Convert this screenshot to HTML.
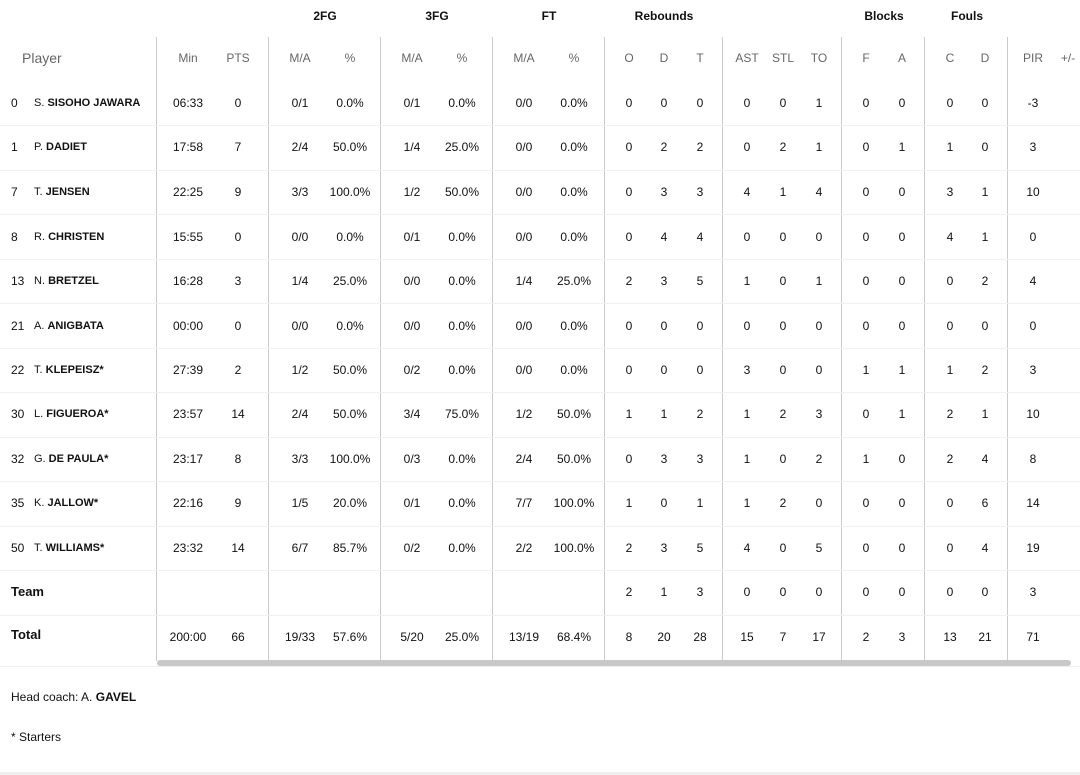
<!DOCTYPE html>
<html><head><meta charset="utf-8"><style>
body{margin:0;width:1080px;height:775px;background:#fff;font-family:"Liberation Sans",sans-serif;color:#111;position:relative;overflow:hidden}
.r{position:absolute;left:0;width:1080px;height:20px;font-size:12px}
.r span{position:absolute;width:60px;text-align:center;top:0;line-height:20px}
.n{position:absolute;left:11px;line-height:20px;font-size:12px}
.n b{font-size:11px;letter-spacing:.5px}
.nm{position:absolute;left:34px;line-height:20px;font-size:11px}
.vl{position:absolute;top:37px;height:624px;width:1px;background:#ccc}
.hl{position:absolute;left:0;width:1080px;height:1px;background:#f0f0f0}
.g{position:absolute;top:9px;font-size:12px;font-weight:bold;width:100px;text-align:center}
.h span{color:#666}
.c1{left:158px}.c2{left:208px}.c3{left:270px}.c4{left:320px}.c5{left:382px}.c6{left:432px}.c7{left:494px}.c8{left:544px}.c9{left:599px}.c10{left:634px}.c11{left:670px}.c12{left:717px}.c13{left:753px}.c14{left:789px}.c15{left:836px}.c16{left:872px}.c17{left:920px}.c18{left:955px}.c19{left:1003px}.c20{left:1038px}
</style></head><body>
<div class="g" style="left:275px">2FG</div><div class="g" style="left:387px">3FG</div><div class="g" style="left:499px">FT</div><div class="g" style="left:614px">Rebounds</div><div class="g" style="left:834px">Blocks</div><div class="g" style="left:917px">Fouls</div>
<div class="vl" style="left:156px"></div><div class="vl" style="left:268px"></div><div class="vl" style="left:380px"></div><div class="vl" style="left:492px"></div><div class="vl" style="left:604px"></div><div class="vl" style="left:722px"></div><div class="vl" style="left:841px"></div><div class="vl" style="left:924px"></div><div class="vl" style="left:1007px"></div>
<div class="hl" style="top:125px"></div><div class="hl" style="top:170px"></div><div class="hl" style="top:214px"></div><div class="hl" style="top:259px"></div><div class="hl" style="top:303px"></div><div class="hl" style="top:348px"></div><div class="hl" style="top:392px"></div><div class="hl" style="top:437px"></div><div class="hl" style="top:481px"></div><div class="hl" style="top:526px"></div><div class="hl" style="top:570px"></div><div class="hl" style="top:615px"></div><div class="hl" style="top:666px"></div>
<div style="position:absolute;left:157px;top:660px;width:914px;height:6px;border-radius:3px;background:#c8c8c8"></div>
<div class="r h" style="top:48px"><div class="n" style="left:22px;color:#666;font-size:14px">Player</div><span class="c1">Min</span><span class="c2">PTS</span><span class="c3">M/A</span><span class="c4">%</span><span class="c5">M/A</span><span class="c6">%</span><span class="c7">M/A</span><span class="c8">%</span><span class="c9">O</span><span class="c10">D</span><span class="c11">T</span><span class="c12">AST</span><span class="c13">STL</span><span class="c14">TO</span><span class="c15">F</span><span class="c16">A</span><span class="c17">C</span><span class="c18">D</span><span class="c19">PIR</span><span class="c20">+/-</span></div>

<div class="r" style="top:93px"><div class="n">0</div><div class="nm">S. <b>SISOHO JAWARA</b></div><span class="c1">06:33</span><span class="c2">0</span><span class="c3">0/1</span><span class="c4">0.0%</span><span class="c5">0/1</span><span class="c6">0.0%</span><span class="c7">0/0</span><span class="c8">0.0%</span><span class="c9">0</span><span class="c10">0</span><span class="c11">0</span><span class="c12">0</span><span class="c13">0</span><span class="c14">1</span><span class="c15">0</span><span class="c16">0</span><span class="c17">0</span><span class="c18">0</span><span class="c19">-3</span></div>
<div class="r" style="top:137px"><div class="n">1</div><div class="nm">P. <b>DADIET</b></div><span class="c1">17:58</span><span class="c2">7</span><span class="c3">2/4</span><span class="c4">50.0%</span><span class="c5">1/4</span><span class="c6">25.0%</span><span class="c7">0/0</span><span class="c8">0.0%</span><span class="c9">0</span><span class="c10">2</span><span class="c11">2</span><span class="c12">0</span><span class="c13">2</span><span class="c14">1</span><span class="c15">0</span><span class="c16">1</span><span class="c17">1</span><span class="c18">0</span><span class="c19">3</span></div>
<div class="r" style="top:182px"><div class="n">7</div><div class="nm">T. <b>JENSEN</b></div><span class="c1">22:25</span><span class="c2">9</span><span class="c3">3/3</span><span class="c4">100.0%</span><span class="c5">1/2</span><span class="c6">50.0%</span><span class="c7">0/0</span><span class="c8">0.0%</span><span class="c9">0</span><span class="c10">3</span><span class="c11">3</span><span class="c12">4</span><span class="c13">1</span><span class="c14">4</span><span class="c15">0</span><span class="c16">0</span><span class="c17">3</span><span class="c18">1</span><span class="c19">10</span></div>
<div class="r" style="top:227px"><div class="n">8</div><div class="nm">R. <b>CHRISTEN</b></div><span class="c1">15:55</span><span class="c2">0</span><span class="c3">0/0</span><span class="c4">0.0%</span><span class="c5">0/1</span><span class="c6">0.0%</span><span class="c7">0/0</span><span class="c8">0.0%</span><span class="c9">0</span><span class="c10">4</span><span class="c11">4</span><span class="c12">0</span><span class="c13">0</span><span class="c14">0</span><span class="c15">0</span><span class="c16">0</span><span class="c17">4</span><span class="c18">1</span><span class="c19">0</span></div>
<div class="r" style="top:271px"><div class="n">13</div><div class="nm">N. <b>BRETZEL</b></div><span class="c1">16:28</span><span class="c2">3</span><span class="c3">1/4</span><span class="c4">25.0%</span><span class="c5">0/0</span><span class="c6">0.0%</span><span class="c7">1/4</span><span class="c8">25.0%</span><span class="c9">2</span><span class="c10">3</span><span class="c11">5</span><span class="c12">1</span><span class="c13">0</span><span class="c14">1</span><span class="c15">0</span><span class="c16">0</span><span class="c17">0</span><span class="c18">2</span><span class="c19">4</span></div>
<div class="r" style="top:316px"><div class="n">21</div><div class="nm">A. <b>ANIGBATA</b></div><span class="c1">00:00</span><span class="c2">0</span><span class="c3">0/0</span><span class="c4">0.0%</span><span class="c5">0/0</span><span class="c6">0.0%</span><span class="c7">0/0</span><span class="c8">0.0%</span><span class="c9">0</span><span class="c10">0</span><span class="c11">0</span><span class="c12">0</span><span class="c13">0</span><span class="c14">0</span><span class="c15">0</span><span class="c16">0</span><span class="c17">0</span><span class="c18">0</span><span class="c19">0</span></div>
<div class="r" style="top:360px"><div class="n">22</div><div class="nm">T. <b>KLEPEISZ*</b></div><span class="c1">27:39</span><span class="c2">2</span><span class="c3">1/2</span><span class="c4">50.0%</span><span class="c5">0/2</span><span class="c6">0.0%</span><span class="c7">0/0</span><span class="c8">0.0%</span><span class="c9">0</span><span class="c10">0</span><span class="c11">0</span><span class="c12">3</span><span class="c13">0</span><span class="c14">0</span><span class="c15">1</span><span class="c16">1</span><span class="c17">1</span><span class="c18">2</span><span class="c19">3</span></div>
<div class="r" style="top:404px"><div class="n">30</div><div class="nm">L. <b>FIGUEROA*</b></div><span class="c1">23:57</span><span class="c2">14</span><span class="c3">2/4</span><span class="c4">50.0%</span><span class="c5">3/4</span><span class="c6">75.0%</span><span class="c7">1/2</span><span class="c8">50.0%</span><span class="c9">1</span><span class="c10">1</span><span class="c11">2</span><span class="c12">1</span><span class="c13">2</span><span class="c14">3</span><span class="c15">0</span><span class="c16">1</span><span class="c17">2</span><span class="c18">1</span><span class="c19">10</span></div>
<div class="r" style="top:449px"><div class="n">32</div><div class="nm">G. <b>DE PAULA*</b></div><span class="c1">23:17</span><span class="c2">8</span><span class="c3">3/3</span><span class="c4">100.0%</span><span class="c5">0/3</span><span class="c6">0.0%</span><span class="c7">2/4</span><span class="c8">50.0%</span><span class="c9">0</span><span class="c10">3</span><span class="c11">3</span><span class="c12">1</span><span class="c13">0</span><span class="c14">2</span><span class="c15">1</span><span class="c16">0</span><span class="c17">2</span><span class="c18">4</span><span class="c19">8</span></div>
<div class="r" style="top:493px"><div class="n">35</div><div class="nm">K. <b>JALLOW*</b></div><span class="c1">22:16</span><span class="c2">9</span><span class="c3">1/5</span><span class="c4">20.0%</span><span class="c5">0/1</span><span class="c6">0.0%</span><span class="c7">7/7</span><span class="c8">100.0%</span><span class="c9">1</span><span class="c10">0</span><span class="c11">1</span><span class="c12">1</span><span class="c13">2</span><span class="c14">0</span><span class="c15">0</span><span class="c16">0</span><span class="c17">0</span><span class="c18">6</span><span class="c19">14</span></div>
<div class="r" style="top:538px"><div class="n">50</div><div class="nm">T. <b>WILLIAMS*</b></div><span class="c1">23:32</span><span class="c2">14</span><span class="c3">6/7</span><span class="c4">85.7%</span><span class="c5">0/2</span><span class="c6">0.0%</span><span class="c7">2/2</span><span class="c8">100.0%</span><span class="c9">2</span><span class="c10">3</span><span class="c11">5</span><span class="c12">4</span><span class="c13">0</span><span class="c14">5</span><span class="c15">0</span><span class="c16">0</span><span class="c17">0</span><span class="c18">4</span><span class="c19">19</span></div>
<div class="r" style="top:582px"><div class="n" style="font-weight:bold;font-size:13px">Team</div><span class="c9">2</span><span class="c10">1</span><span class="c11">3</span><span class="c12">0</span><span class="c13">0</span><span class="c14">0</span><span class="c15">0</span><span class="c16">0</span><span class="c17">0</span><span class="c18">0</span><span class="c19">3</span></div>
<div class="r" style="top:627px"><div class="n" style="font-weight:bold;font-size:13px;top:-2px">Total</div><span class="c1">200:00</span><span class="c2">66</span><span class="c3">19/33</span><span class="c4">57.6%</span><span class="c5">5/20</span><span class="c6">25.0%</span><span class="c7">13/19</span><span class="c8">68.4%</span><span class="c9">8</span><span class="c10">20</span><span class="c11">28</span><span class="c12">15</span><span class="c13">7</span><span class="c14">17</span><span class="c15">2</span><span class="c16">3</span><span class="c17">13</span><span class="c18">21</span><span class="c19">71</span></div>
<div style="position:absolute;left:11px;top:690px;font-size:12px">Head coach: A. <b>GAVEL</b></div>
<div style="position:absolute;left:11px;top:730px;font-size:12px">* Starters</div>
<div style="position:absolute;left:0;top:772px;width:1080px;height:3px;background:#eee"></div>
</body></html>
